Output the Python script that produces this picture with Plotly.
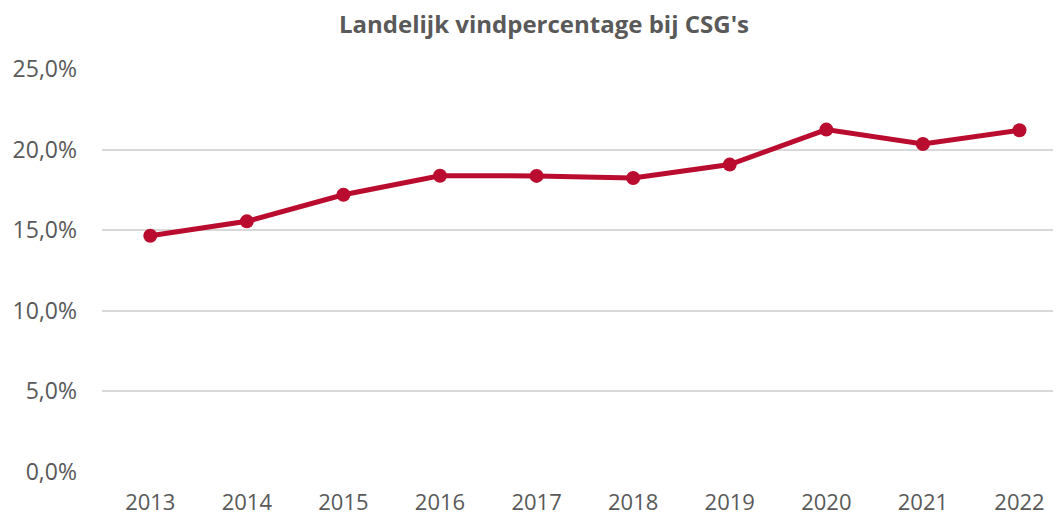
import plotly.graph_objects as go

years = ["2013", "2014", "2015", "2016", "2017", "2018", "2019", "2020", "2021", "2022"]
vindpercentage = [0.1466, 0.1555, 0.1720, 0.1838, 0.1837, 0.1824, 0.1907, 0.2124, 0.2035, 0.2120]
y_ticks = [0, 0.05, 0.10, 0.15, 0.20, 0.25]

# the page body has an 8px margin, so the figure is sized to fill the rest of the window
W, H = 1053, 509

fig = go.Figure()
fig.add_trace(go.Scatter(
    x=years, y=vindpercentage, mode="lines+markers",
    line=dict(color="#BA0C2F", width=5),
    marker=dict(color="#BA0C2F", size=14),
    hovertemplate="%{x}: %{y:.1%}<extra></extra>",
))

fig.update_layout(
    width=W, height=H,
    margin=dict(l=94, r=0, t=61, b=45),
    paper_bgcolor="white", plot_bgcolor="white",
    separators=",.",
    showlegend=False,
    font=dict(family="Open Sans", color="#595959", size=23),
    title=dict(text="<b>Landelijk vindpercentage bij CSG's</b>", x=536 / W, xanchor="center",
               xref="container", y=1 - 17 / H, yanchor="middle", yref="container",
               automargin=False,
               font=dict(family="Open Sans", size=24, color="#595959")),
)
fig.update_xaxes(type="category", range=[-0.5, 9.43], showgrid=False, showline=False,
                 automargin=False,
                 ticks="", ticklabelstandoff=15, tickfont=dict(size=22, color="#595959"))
fig.update_yaxes(range=[0, 0.25], tickvals=y_ticks, tickformat=".1%", showgrid=True,
                 gridcolor="#D9D9D9", gridwidth=2, zeroline=False, showline=False,
                 automargin=False,
                 ticks="", ticklabelstandoff=24, tickfont=dict(size=23, color="#595959"))

fig.write_html("out.html")
